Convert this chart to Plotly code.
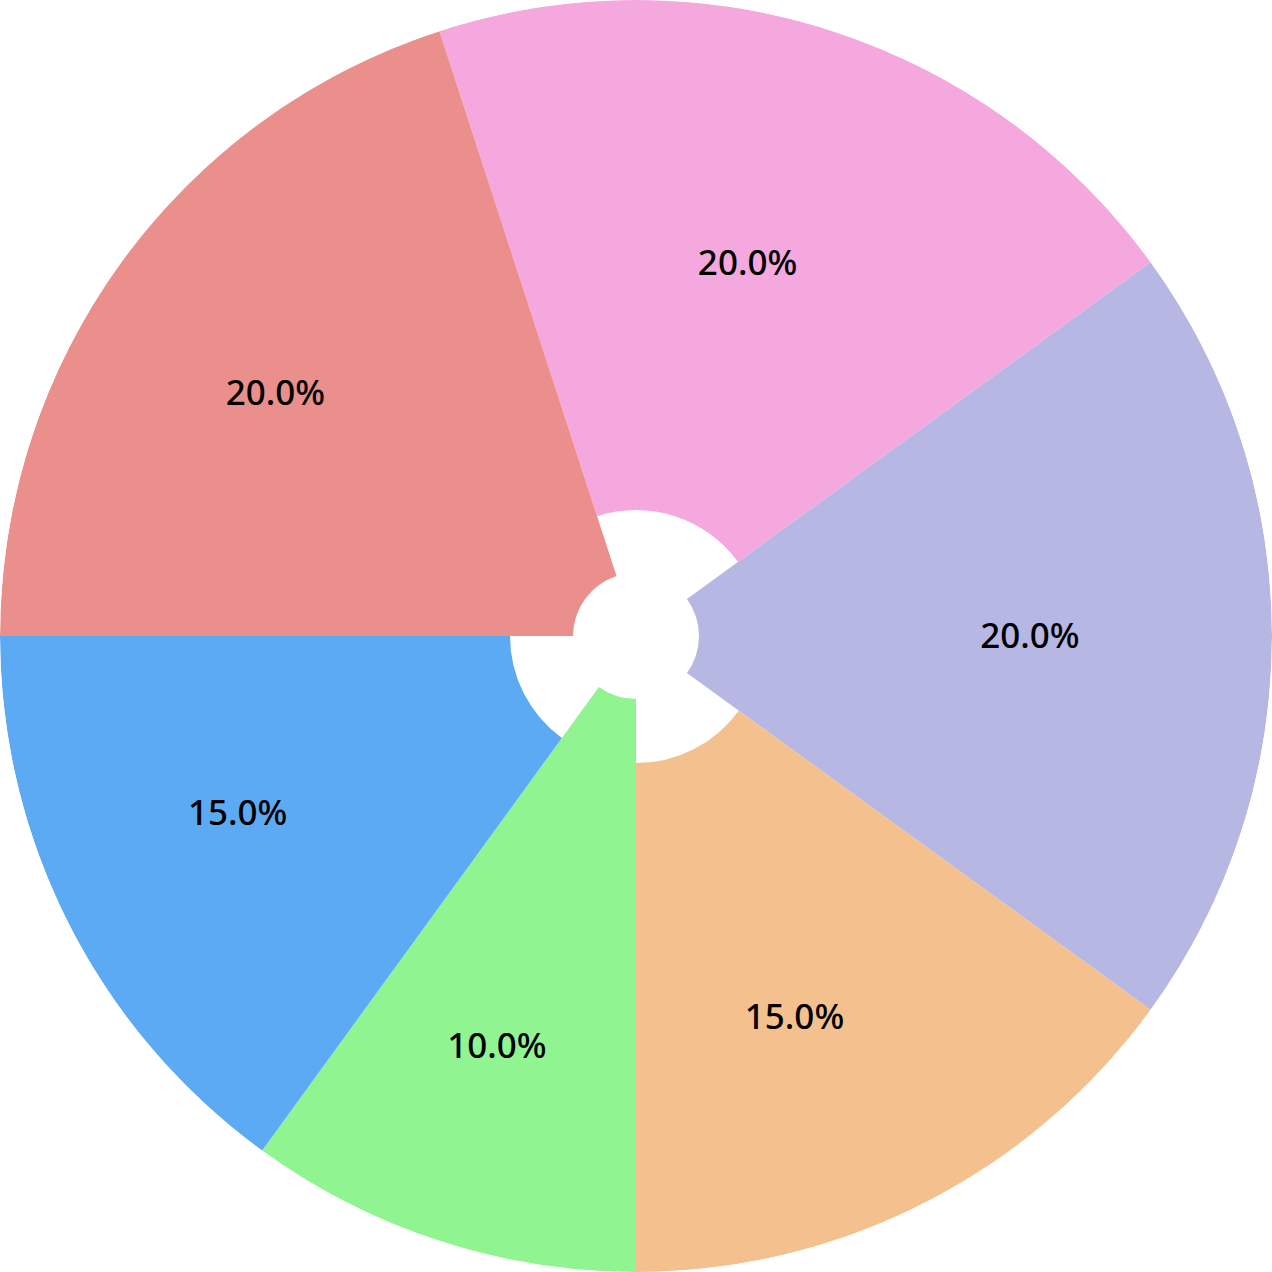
import plotly.graph_objects as go

# ---- data ----
categories = ["A", "B", "C", "D", "E", "F"]
values = [20, 20, 15, 10, 15, 20]          # percent shares
inner_radius = [126, 63, 127, 63, 126, 63]  # inner hole radius per slice
outer_radius = 636
colors = ["#F5A8DE", "#B7B7E4", "#F4C18E", "#90F490", "#5DAAF4", "#EA8F8C"]

# ---- style / layout ----
START_ANGLE = -18  # degrees clockwise from top
LABEL_R = [386, 394, 416, 436, 437, 433]
LABEL_THETA = [16.8, 90.4, 157.6, 198.6, 245.7, 303.6]

total = sum(values)
widths = [v / total * 360 for v in values]
centers = []
acc = START_ANGLE
for w in widths:
    centers.append(acc + w / 2)
    acc += w

fig = go.Figure()
fig.add_trace(go.Barpolar(
    theta=centers,
    width=widths,
    base=inner_radius,
    r=[outer_radius - b for b in inner_radius],
    marker=dict(color=colors, line=dict(width=0)),
    hoverinfo="skip",
))
fig.add_trace(go.Scatterpolar(
    r=LABEL_R,
    theta=LABEL_THETA,
    mode="text",
    text=[f"{v / total * 100:.1f}%" for v in values],
    textfont=dict(family="Noto Sans", size=35, color="#000000", weight=500),
    hoverinfo="skip",
))

fig.update_layout(
    width=1272, height=1272,
    margin=dict(l=0, r=0, t=0, b=0),
    paper_bgcolor="white",
    showlegend=False,
    polar=dict(
        domain=dict(x=[0, 1], y=[0, 1]),
        bgcolor="white",
        bargap=0,
        angularaxis=dict(direction="clockwise", rotation=90, visible=False),
        radialaxis=dict(range=[0, outer_radius], visible=False),
    ),
)
fig.write_html("out.html")
